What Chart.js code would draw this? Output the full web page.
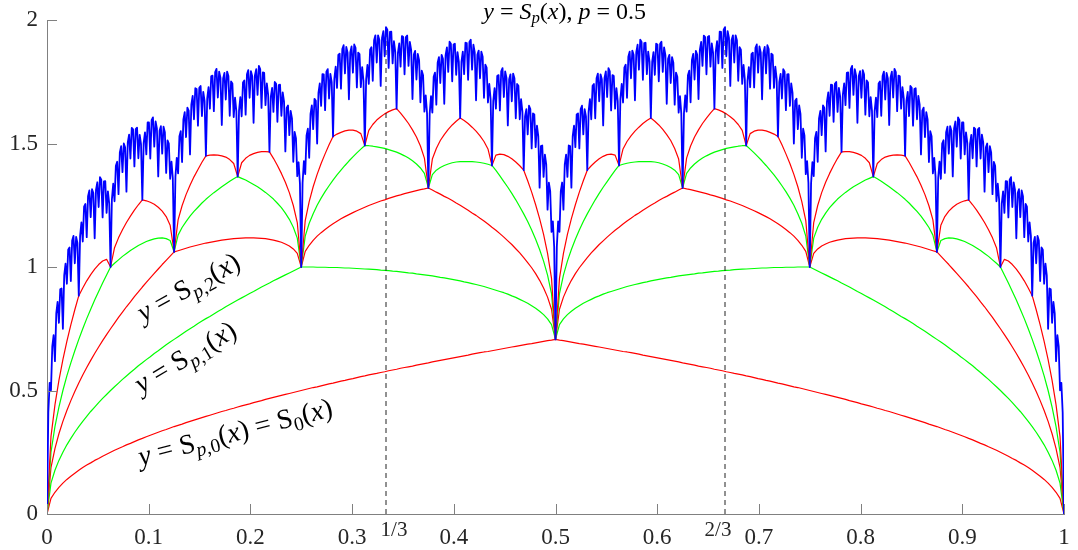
<!DOCTYPE html>
<html>
<head>
<meta charset="utf-8">
<script src="https://cdn.jsdelivr.net/npm/chart.js@4.4.1/dist/chart.umd.min.js"></script>
<style>
  html, body { margin: 0; padding: 0; background: #fff; }
</style>
</head>
<body>
<canvas id="spChart" width="1078" height="550"></canvas>
<script>
/* ---------------------------------- Data ---------------------------------- */
// partial sums S_{p,n}(x), n = 0..4, read every 1/256 from x = 0 to x = 1
const sp0Vals = [
  0, 0.063, 0.088, 0.108, 0.125, 0.140, 0.153, 0.165, 0.177, 0.188, 0.198, 0.207, 0.217, 0.225, 0.234, 0.242,
  0.250, 0.258, 0.265, 0.272, 0.280, 0.286, 0.293, 0.300, 0.306, 0.313, 0.319, 0.325, 0.331, 0.337, 0.342, 0.348,
  0.354, 0.359, 0.364, 0.370, 0.375, 0.380, 0.385, 0.390, 0.395, 0.400, 0.405, 0.410, 0.415, 0.419, 0.424, 0.428,
  0.433, 0.438, 0.442, 0.446, 0.451, 0.455, 0.459, 0.464, 0.468, 0.472, 0.476, 0.480, 0.484, 0.488, 0.492, 0.496,
  0.500, 0.504, 0.508, 0.512, 0.515, 0.519, 0.523, 0.527, 0.530, 0.534, 0.538, 0.541, 0.545, 0.548, 0.552, 0.556,
  0.559, 0.563, 0.566, 0.569, 0.573, 0.576, 0.580, 0.583, 0.586, 0.590, 0.593, 0.596, 0.599, 0.603, 0.606, 0.609,
  0.612, 0.616, 0.619, 0.622, 0.625, 0.628, 0.631, 0.634, 0.637, 0.640, 0.643, 0.647, 0.650, 0.653, 0.656, 0.658,
  0.661, 0.664, 0.667, 0.670, 0.673, 0.676, 0.679, 0.682, 0.685, 0.688, 0.690, 0.693, 0.696, 0.699, 0.702, 0.704,
  0.707,
  0.704, 0.702, 0.699, 0.696, 0.693, 0.690, 0.688, 0.685, 0.682, 0.679, 0.676, 0.673, 0.670, 0.667, 0.664, 0.661,
  0.658, 0.656, 0.653, 0.650, 0.647, 0.643, 0.640, 0.637, 0.634, 0.631, 0.628, 0.625, 0.622, 0.619, 0.616, 0.612,
  0.609, 0.606, 0.603, 0.599, 0.596, 0.593, 0.590, 0.586, 0.583, 0.580, 0.576, 0.573, 0.569, 0.566, 0.563, 0.559,
  0.556, 0.552, 0.548, 0.545, 0.541, 0.538, 0.534, 0.530, 0.527, 0.523, 0.519, 0.515, 0.512, 0.508, 0.504, 0.500,
  0.496, 0.492, 0.488, 0.484, 0.480, 0.476, 0.472, 0.468, 0.464, 0.459, 0.455, 0.451, 0.446, 0.442, 0.438, 0.433,
  0.428, 0.424, 0.419, 0.415, 0.410, 0.405, 0.400, 0.395, 0.390, 0.385, 0.380, 0.375, 0.370, 0.364, 0.359, 0.354,
  0.348, 0.342, 0.337, 0.331, 0.325, 0.319, 0.313, 0.306, 0.300, 0.293, 0.286, 0.280, 0.272, 0.265, 0.258, 0.250,
  0.242, 0.234, 0.225, 0.217, 0.207, 0.198, 0.188, 0.177, 0.165, 0.153, 0.140, 0.125, 0.108, 0.088, 0.063, 0,
];

const sp1Vals = [
  0, 0.125, 0.177, 0.217, 0.250, 0.280, 0.306, 0.331, 0.354, 0.375, 0.395, 0.415, 0.433, 0.451, 0.468, 0.484,
  0.500, 0.515, 0.530, 0.545, 0.559, 0.573, 0.586, 0.600, 0.612, 0.625, 0.637, 0.650, 0.661, 0.673, 0.685, 0.696,
  0.707, 0.718, 0.729, 0.740, 0.750, 0.760, 0.771, 0.781, 0.791, 0.800, 0.810, 0.820, 0.829, 0.839, 0.848, 0.857,
  0.866, 0.875, 0.884, 0.893, 0.901, 0.910, 0.919, 0.927, 0.935, 0.944, 0.952, 0.960, 0.968, 0.976, 0.984, 0.992,
  1.000, 1.000, 1.000, 1.000, 0.999, 0.999, 0.999, 0.998, 0.998, 0.998, 0.997, 0.996, 0.996, 0.995, 0.994, 0.993,
  0.992, 0.991, 0.990, 0.989, 0.987, 0.986, 0.985, 0.983, 0.982, 0.980, 0.978, 0.976, 0.975, 0.972, 0.970, 0.968,
  0.966, 0.964, 0.961, 0.958, 0.956, 0.953, 0.950, 0.947, 0.944, 0.940, 0.937, 0.933, 0.929, 0.925, 0.921, 0.916,
  0.911, 0.906, 0.901, 0.896, 0.890, 0.883, 0.877, 0.869, 0.861, 0.853, 0.843, 0.833, 0.821, 0.807, 0.790, 0.767,
  0.707,
  0.767, 0.790, 0.807, 0.821, 0.833, 0.843, 0.853, 0.861, 0.869, 0.877, 0.883, 0.890, 0.896, 0.901, 0.906, 0.911,
  0.916, 0.921, 0.925, 0.929, 0.933, 0.937, 0.940, 0.944, 0.947, 0.950, 0.953, 0.956, 0.958, 0.961, 0.964, 0.966,
  0.968, 0.970, 0.972, 0.975, 0.976, 0.978, 0.980, 0.982, 0.983, 0.985, 0.986, 0.987, 0.989, 0.990, 0.991, 0.992,
  0.993, 0.994, 0.995, 0.996, 0.996, 0.997, 0.998, 0.998, 0.998, 0.999, 0.999, 0.999, 1.000, 1.000, 1.000, 1.000,
  0.992, 0.984, 0.976, 0.968, 0.960, 0.952, 0.944, 0.935, 0.927, 0.919, 0.910, 0.901, 0.893, 0.884, 0.875, 0.866,
  0.857, 0.848, 0.839, 0.829, 0.820, 0.810, 0.800, 0.791, 0.781, 0.771, 0.760, 0.750, 0.740, 0.729, 0.718, 0.707,
  0.696, 0.685, 0.673, 0.661, 0.650, 0.637, 0.625, 0.612, 0.600, 0.586, 0.573, 0.559, 0.545, 0.530, 0.515, 0.500,
  0.484, 0.468, 0.451, 0.433, 0.415, 0.395, 0.375, 0.354, 0.331, 0.306, 0.280, 0.250, 0.217, 0.177, 0.125, 0,
];

const sp2Vals = [
  0, 0.188, 0.265, 0.325, 0.375, 0.419, 0.459, 0.496, 0.530, 0.563, 0.593, 0.622, 0.650, 0.676, 0.702, 0.726,
  0.750, 0.773, 0.796, 0.817, 0.839, 0.859, 0.880, 0.899, 0.919, 0.938, 0.956, 0.974, 0.992, 1.010, 1.027, 1.044,
  1.061, 1.066, 1.071, 1.076, 1.081, 1.085, 1.089, 1.093, 1.097, 1.100, 1.103, 1.106, 1.109, 1.111, 1.113, 1.115,
  1.116, 1.117, 1.118, 1.118, 1.118, 1.117, 1.116, 1.115, 1.112, 1.109, 1.105, 1.100, 1.093, 1.085, 1.073, 1.055,
  1.000, 1.063, 1.088, 1.108, 1.125, 1.139, 1.152, 1.164, 1.175, 1.185, 1.195, 1.204, 1.212, 1.220, 1.228, 1.235,
  1.242, 1.249, 1.255, 1.261, 1.267, 1.272, 1.278, 1.283, 1.288, 1.292, 1.297, 1.301, 1.305, 1.309, 1.313, 1.316,
  1.320, 1.312, 1.303, 1.295, 1.286, 1.278, 1.269, 1.259, 1.250, 1.240, 1.230, 1.219, 1.209, 1.197, 1.186, 1.174,
  1.161, 1.149, 1.135, 1.121, 1.106, 1.091, 1.074, 1.057, 1.038, 1.018, 0.997, 0.973, 0.946, 0.915, 0.878, 0.829,
  0.707,
  0.829, 0.878, 0.915, 0.946, 0.973, 0.997, 1.018, 1.038, 1.057, 1.074, 1.091, 1.106, 1.121, 1.135, 1.149, 1.161,
  1.174, 1.186, 1.197, 1.209, 1.219, 1.230, 1.240, 1.250, 1.259, 1.269, 1.278, 1.286, 1.295, 1.303, 1.312, 1.320,
  1.316, 1.313, 1.309, 1.305, 1.301, 1.297, 1.292, 1.288, 1.283, 1.278, 1.272, 1.267, 1.261, 1.255, 1.249, 1.242,
  1.235, 1.228, 1.220, 1.212, 1.204, 1.195, 1.185, 1.175, 1.164, 1.152, 1.139, 1.125, 1.108, 1.088, 1.063, 1.000,
  1.055, 1.073, 1.085, 1.093, 1.100, 1.105, 1.109, 1.112, 1.115, 1.116, 1.117, 1.118, 1.118, 1.118, 1.117, 1.116,
  1.115, 1.113, 1.111, 1.109, 1.106, 1.103, 1.100, 1.097, 1.093, 1.089, 1.085, 1.081, 1.076, 1.071, 1.066, 1.061,
  1.044, 1.027, 1.010, 0.992, 0.974, 0.956, 0.938, 0.919, 0.899, 0.880, 0.859, 0.839, 0.817, 0.796, 0.773, 0.750,
  0.726, 0.702, 0.676, 0.650, 0.622, 0.593, 0.563, 0.530, 0.496, 0.459, 0.419, 0.375, 0.325, 0.265, 0.188, 0,
];

const sp3Vals = [
  0, 0.250, 0.354, 0.433, 0.500, 0.559, 0.612, 0.661, 0.707, 0.750, 0.791, 0.829, 0.866, 0.901, 0.935, 0.968,
  1.000, 1.015, 1.029, 1.043, 1.055, 1.067, 1.077, 1.087, 1.095, 1.103, 1.109, 1.114, 1.117, 1.118, 1.115, 1.107,
  1.061, 1.129, 1.160, 1.184, 1.206, 1.225, 1.242, 1.259, 1.274, 1.288, 1.301, 1.313, 1.325, 1.336, 1.347, 1.357,
  1.366, 1.359, 1.352, 1.343, 1.334, 1.325, 1.314, 1.302, 1.289, 1.275, 1.258, 1.240, 1.218, 1.193, 1.161, 1.117,
  1.000, 1.125, 1.177, 1.216, 1.250, 1.279, 1.305, 1.329, 1.352, 1.373, 1.392, 1.411, 1.429, 1.446, 1.462, 1.477,
  1.492, 1.491, 1.489, 1.486, 1.483, 1.480, 1.475, 1.470, 1.465, 1.458, 1.450, 1.441, 1.430, 1.417, 1.401, 1.379,
  1.320, 1.374, 1.392, 1.403, 1.411, 1.417, 1.422, 1.425, 1.427, 1.427, 1.427, 1.427, 1.425, 1.423, 1.420, 1.416,
  1.411, 1.391, 1.369, 1.346, 1.323, 1.298, 1.272, 1.244, 1.215, 1.184, 1.150, 1.112, 1.071, 1.024, 0.967, 0.892,
  0.707,
  0.892, 0.967, 1.024, 1.071, 1.112, 1.150, 1.184, 1.215, 1.244, 1.272, 1.298, 1.323, 1.346, 1.369, 1.391, 1.411,
  1.416, 1.420, 1.423, 1.425, 1.427, 1.427, 1.427, 1.427, 1.425, 1.422, 1.417, 1.411, 1.403, 1.392, 1.374, 1.320,
  1.379, 1.401, 1.417, 1.430, 1.441, 1.450, 1.458, 1.465, 1.470, 1.475, 1.480, 1.483, 1.486, 1.489, 1.491, 1.492,
  1.477, 1.462, 1.446, 1.429, 1.411, 1.392, 1.373, 1.352, 1.329, 1.305, 1.279, 1.250, 1.216, 1.177, 1.125, 1.000,
  1.117, 1.161, 1.193, 1.218, 1.240, 1.258, 1.275, 1.289, 1.302, 1.314, 1.325, 1.334, 1.343, 1.352, 1.359, 1.366,
  1.357, 1.347, 1.336, 1.325, 1.313, 1.301, 1.288, 1.274, 1.259, 1.242, 1.225, 1.206, 1.184, 1.160, 1.129, 1.061,
  1.107, 1.115, 1.118, 1.117, 1.114, 1.109, 1.103, 1.095, 1.087, 1.077, 1.067, 1.055, 1.043, 1.029, 1.015, 1.000,
  0.968, 0.935, 0.901, 0.866, 0.829, 0.791, 0.750, 0.707, 0.661, 0.612, 0.559, 0.500, 0.433, 0.354, 0.250, 0,
];

const sp4Vals = [
  0, 0.313, 0.442, 0.541, 0.625, 0.699, 0.766, 0.827, 0.884, 0.915, 0.944, 0.969, 0.991, 1.010, 1.024, 1.031,
  1.000, 1.078, 1.118, 1.151, 1.180, 1.206, 1.230, 1.252, 1.272, 1.268, 1.262, 1.254, 1.242, 1.226, 1.204, 1.169,
  1.061, 1.191, 1.248, 1.293, 1.331, 1.365, 1.395, 1.424, 1.450, 1.453, 1.454, 1.453, 1.450, 1.445, 1.435, 1.419,
  1.366, 1.422, 1.440, 1.452, 1.459, 1.464, 1.467, 1.467, 1.466, 1.440, 1.411, 1.379, 1.343, 1.301, 1.249, 1.180,
  1.000, 1.188, 1.265, 1.325, 1.375, 1.419, 1.458, 1.495, 1.528, 1.538, 1.545, 1.551, 1.554, 1.554, 1.550, 1.540,
  1.492, 1.553, 1.577, 1.595, 1.608, 1.620, 1.629, 1.636, 1.641, 1.623, 1.603, 1.581, 1.555, 1.526, 1.490, 1.441,
  1.320, 1.437, 1.480, 1.512, 1.536, 1.557, 1.575, 1.590, 1.603, 1.593, 1.581, 1.566, 1.550, 1.531, 1.508, 1.478,
  1.411, 1.453, 1.457, 1.455, 1.448, 1.438, 1.425, 1.410, 1.392, 1.349, 1.303, 1.252, 1.196, 1.132, 1.055, 0.954,
  0.707,
  0.954, 1.055, 1.132, 1.196, 1.252, 1.303, 1.349, 1.392, 1.410, 1.425, 1.438, 1.448, 1.455, 1.457, 1.453, 1.411,
  1.478, 1.508, 1.531, 1.550, 1.566, 1.581, 1.593, 1.603, 1.590, 1.575, 1.557, 1.536, 1.512, 1.480, 1.437, 1.320,
  1.441, 1.490, 1.526, 1.555, 1.581, 1.603, 1.623, 1.641, 1.636, 1.629, 1.620, 1.608, 1.595, 1.577, 1.553, 1.492,
  1.540, 1.550, 1.554, 1.554, 1.551, 1.545, 1.538, 1.528, 1.495, 1.458, 1.419, 1.375, 1.325, 1.265, 1.188, 1.000,
  1.180, 1.249, 1.301, 1.343, 1.379, 1.411, 1.440, 1.466, 1.467, 1.467, 1.464, 1.459, 1.452, 1.440, 1.422, 1.366,
  1.419, 1.435, 1.445, 1.450, 1.453, 1.454, 1.453, 1.450, 1.424, 1.395, 1.365, 1.331, 1.293, 1.248, 1.191, 1.061,
  1.169, 1.204, 1.226, 1.242, 1.254, 1.262, 1.268, 1.272, 1.252, 1.230, 1.206, 1.180, 1.151, 1.118, 1.078, 1.000,
  1.031, 1.024, 1.010, 0.991, 0.969, 0.944, 0.915, 0.884, 0.827, 0.766, 0.699, 0.625, 0.541, 0.442, 0.313, 0,
];

// the full S_p(x), read every 1/768 from x = 0 to x = 1
const spVals = [
  0, 0.412, 0.531, 0.501, 0.679, 0.724, 0.619, 0.812, 0.859, 0.774, 0.910, 0.913, 0.750, 0.966, 1.014, 0.932, 1.070, 1.079, 0.943, 1.107, 1.126, 1.015, 1.122, 1.097,
  0.884, 1.126, 1.181, 1.103, 1.244, 1.255, 1.121, 1.287, 1.310, 1.202, 1.315, 1.299, 1.116, 1.312, 1.343, 1.243, 1.364, 1.354, 1.201, 1.347, 1.348, 1.219, 1.306, 1.257,
  1.000, 1.273, 1.337, 1.266, 1.410, 1.426, 1.295, 1.464, 1.489, 1.384, 1.500, 1.485, 1.305, 1.504, 1.536, 1.439, 1.563, 1.557, 1.407, 1.558, 1.564, 1.440, 1.535, 1.497,
  1.272, 1.503, 1.545, 1.456, 1.585, 1.585, 1.439, 1.595, 1.606, 1.487, 1.589, 1.561, 1.367, 1.552, 1.570, 1.459, 1.568, 1.546, 1.381, 1.513, 1.500, 1.357, 1.427, 1.360,
  1.061, 1.367, 1.442, 1.379, 1.529, 1.550, 1.425, 1.598, 1.627, 1.526, 1.645, 1.633, 1.456, 1.657, 1.693, 1.598, 1.724, 1.721, 1.572, 1.726, 1.733, 1.611, 1.709, 1.673,
  1.450, 1.683, 1.728, 1.641, 1.772, 1.775, 1.631, 1.789, 1.802, 1.686, 1.791, 1.766, 1.575, 1.763, 1.786, 1.678, 1.791, 1.773, 1.612, 1.751, 1.743, 1.607, 1.686, 1.631,
  1.366, 1.632, 1.688, 1.610, 1.747, 1.755, 1.617, 1.780, 1.797, 1.685, 1.793, 1.772, 1.584, 1.776, 1.801, 1.697, 1.814, 1.801, 1.644, 1.788, 1.786, 1.655, 1.743, 1.698,
  1.466, 1.689, 1.725, 1.628, 1.749, 1.742, 1.588, 1.736, 1.738, 1.612, 1.707, 1.670, 1.468, 1.644, 1.654, 1.534, 1.632, 1.602, 1.426, 1.547, 1.522, 1.368, 1.424, 1.338,
  1.000, 1.341, 1.429, 1.376, 1.533, 1.560, 1.442, 1.620, 1.654, 1.558, 1.681, 1.673, 1.500, 1.705, 1.743, 1.652, 1.781, 1.780, 1.635, 1.791, 1.801, 1.682, 1.782, 1.748,
  1.528, 1.763, 1.811, 1.725, 1.859, 1.864, 1.722, 1.882, 1.898, 1.784, 1.891, 1.868, 1.679, 1.869, 1.893, 1.787, 1.901, 1.887, 1.727, 1.868, 1.862, 1.728, 1.809, 1.754,
  1.492, 1.759, 1.818, 1.741, 1.880, 1.890, 1.754, 1.918, 1.938, 1.828, 1.938, 1.919, 1.733, 1.927, 1.955, 1.853, 1.971, 1.961, 1.806, 1.952, 1.953, 1.824, 1.914, 1.871,
  1.641, 1.867, 1.905, 1.811, 1.935, 1.931, 1.780, 1.931, 1.937, 1.814, 1.911, 1.879, 1.680, 1.860, 1.875, 1.759, 1.863, 1.837, 1.667, 1.795, 1.776, 1.629, 1.695, 1.622,
  1.320, 1.622, 1.692, 1.625, 1.770, 1.787, 1.657, 1.827, 1.850, 1.745, 1.859, 1.843, 1.661, 1.858, 1.889, 1.790, 1.912, 1.904, 1.752, 1.901, 1.904, 1.778, 1.870, 1.830,
  1.603, 1.832, 1.872, 1.781, 1.908, 1.906, 1.758, 1.911, 1.920, 1.799, 1.900, 1.870, 1.675, 1.859, 1.876, 1.764, 1.872, 1.851, 1.685, 1.819, 1.807, 1.666, 1.741, 1.680,
  1.411, 1.672, 1.724, 1.641, 1.773, 1.777, 1.634, 1.792, 1.805, 1.688, 1.792, 1.765, 1.573, 1.760, 1.780, 1.671, 1.783, 1.764, 1.602, 1.741, 1.734, 1.598, 1.680, 1.629,
  1.392, 1.610, 1.639, 1.537, 1.653, 1.639, 1.480, 1.622, 1.618, 1.485, 1.572, 1.530, 1.321, 1.490, 1.492, 1.365, 1.455, 1.416, 1.232, 1.342, 1.307, 1.142, 1.185, 1.082,
  0.707,
  1.082, 1.185, 1.142, 1.307, 1.342, 1.232, 1.416, 1.455, 1.365, 1.492, 1.490, 1.321, 1.530, 1.572, 1.485, 1.618, 1.622, 1.480, 1.639, 1.653, 1.537, 1.639, 1.610, 1.392,
  1.629, 1.680, 1.598, 1.734, 1.741, 1.602, 1.764, 1.783, 1.671, 1.780, 1.760, 1.573, 1.765, 1.792, 1.688, 1.805, 1.792, 1.634, 1.777, 1.773, 1.641, 1.724, 1.672, 1.411,
  1.680, 1.741, 1.666, 1.807, 1.819, 1.685, 1.851, 1.872, 1.764, 1.876, 1.859, 1.675, 1.870, 1.900, 1.799, 1.920, 1.911, 1.758, 1.906, 1.908, 1.781, 1.872, 1.832, 1.603,
  1.830, 1.870, 1.778, 1.904, 1.901, 1.752, 1.904, 1.912, 1.790, 1.889, 1.858, 1.661, 1.843, 1.859, 1.745, 1.850, 1.827, 1.657, 1.787, 1.770, 1.625, 1.692, 1.622, 1.320,
  1.622, 1.695, 1.629, 1.776, 1.795, 1.667, 1.837, 1.863, 1.759, 1.875, 1.860, 1.680, 1.879, 1.911, 1.814, 1.937, 1.931, 1.780, 1.931, 1.935, 1.811, 1.905, 1.867, 1.641,
  1.871, 1.914, 1.824, 1.953, 1.952, 1.806, 1.961, 1.971, 1.853, 1.955, 1.927, 1.733, 1.919, 1.938, 1.828, 1.938, 1.918, 1.754, 1.890, 1.880, 1.741, 1.818, 1.759, 1.492,
  1.754, 1.809, 1.728, 1.862, 1.868, 1.727, 1.887, 1.901, 1.787, 1.893, 1.869, 1.679, 1.868, 1.891, 1.784, 1.898, 1.882, 1.722, 1.864, 1.859, 1.725, 1.811, 1.763, 1.528,
  1.748, 1.782, 1.682, 1.801, 1.791, 1.635, 1.780, 1.781, 1.652, 1.743, 1.705, 1.500, 1.673, 1.681, 1.558, 1.654, 1.620, 1.442, 1.560, 1.533, 1.376, 1.429, 1.341, 1.000,
  1.338, 1.424, 1.368, 1.522, 1.547, 1.426, 1.602, 1.632, 1.534, 1.654, 1.644, 1.468, 1.670, 1.707, 1.612, 1.738, 1.736, 1.588, 1.742, 1.749, 1.628, 1.725, 1.689, 1.466,
  1.698, 1.743, 1.655, 1.786, 1.788, 1.644, 1.801, 1.814, 1.697, 1.801, 1.776, 1.584, 1.772, 1.793, 1.685, 1.797, 1.780, 1.617, 1.755, 1.747, 1.610, 1.688, 1.632, 1.366,
  1.631, 1.686, 1.607, 1.743, 1.751, 1.612, 1.773, 1.791, 1.678, 1.786, 1.763, 1.575, 1.766, 1.791, 1.686, 1.802, 1.789, 1.631, 1.775, 1.772, 1.641, 1.728, 1.683, 1.450,
  1.673, 1.709, 1.611, 1.733, 1.726, 1.572, 1.721, 1.724, 1.598, 1.693, 1.657, 1.456, 1.633, 1.645, 1.526, 1.627, 1.598, 1.425, 1.550, 1.529, 1.379, 1.442, 1.367, 1.061,
  1.360, 1.427, 1.357, 1.500, 1.513, 1.381, 1.546, 1.568, 1.459, 1.570, 1.552, 1.367, 1.561, 1.589, 1.487, 1.606, 1.595, 1.439, 1.585, 1.585, 1.456, 1.545, 1.503, 1.272,
  1.497, 1.535, 1.440, 1.564, 1.558, 1.407, 1.557, 1.563, 1.439, 1.536, 1.504, 1.305, 1.485, 1.500, 1.384, 1.489, 1.464, 1.295, 1.426, 1.410, 1.266, 1.337, 1.273, 1.000,
  1.257, 1.306, 1.219, 1.348, 1.347, 1.201, 1.354, 1.364, 1.243, 1.343, 1.312, 1.116, 1.299, 1.315, 1.202, 1.310, 1.287, 1.121, 1.255, 1.244, 1.103, 1.181, 1.126, 0.884,
  1.097, 1.122, 1.015, 1.126, 1.107, 0.943, 1.079, 1.070, 0.932, 1.014, 0.966, 0.750, 0.913, 0.910, 0.774, 0.859, 0.812, 0.619, 0.724, 0.679, 0.501, 0.531, 0.412, 0,
];

// dashed markers at x = 1/3 and x = 2/3
const thirdsX = [1 / 3, 2 / 3];
const thirdsTop = [1.971, 1.971];
const thirdsLabels = ["1/3", "2/3"];

/* --------------------------------- Helpers -------------------------------- */
const SERIF = "'Liberation Serif', 'DejaVu Serif', 'Noto Serif', 'Times New Roman', Times, serif";
const AXIS_GRAY = "#808080";

const toPoints = function (vals) {
  return vals.map((y, i) => ({ x: i / (vals.length - 1), y }));
};

const tickText = (v) => String(Math.round(v * 10) / 10);

const mathFont = function (kind, size) {
  const italic = kind === "i" || kind === "sub";
  const px = kind.startsWith("sub") ? size * 0.7 : size;
  return `${italic ? "italic " : ""}${px}px ${SERIF}`;
};

// draws a run of [text, kind] pieces centred on (cx, cy), rotated by angle (deg)
const drawMath = function (ctx, parts, cx, cy, size, angle) {
  const widths = parts.map(([text, kind]) => {
    ctx.font = mathFont(kind, size);
    return ctx.measureText(text).width;
  });
  const total = widths.reduce((a, b) => a + b, 0);

  ctx.save();
  ctx.translate(cx, cy);
  ctx.rotate((angle * Math.PI) / 180);
  ctx.fillStyle = "#000";
  ctx.textBaseline = "alphabetic";
  let x = -total / 2;
  parts.forEach(([text, kind], i) => {
    ctx.font = mathFont(kind, size);
    const y = size * 0.32 + (kind.startsWith("sub") ? size * 0.2 : 0);
    ctx.fillText(text, x, y);
    x += widths[i];
  });
  ctx.restore();
};

const curveLabels = [
  {
    at: [0.139, 0.919], angle: -29,
    parts: [["y", "i"], [" = ", "r"], ["S", "r"], ["p", "sub"], [",2", "subr"], ["(", "r"], ["x", "i"], [")", "r"]],
  },
  {
    at: [0.136, 0.636], angle: -31,
    parts: [["y", "i"], [" = ", "r"], ["S", "r"], ["p", "sub"], [",1", "subr"], ["(", "r"], ["x", "i"], [")", "r"]],
  },
  {
    at: [0.185, 0.332], angle: -14.5,
    parts: [
      ["y", "i"], [" = ", "r"], ["S", "r"], ["p", "sub"], [",0", "subr"], ["(", "r"], ["x", "i"], [")", "r"],
      [" = ", "r"], ["S", "r"], ["0", "subr"], ["(", "r"], ["x", "i"], [")", "r"],
    ],
  },
];

/* ------------------------------ Axis decoration ---------------------------- */
const axisDecor = {
  id: "axisDecor",
  afterDraw(chart) {
    const { ctx, chartArea, scales } = chart;
    const xs = scales.x;
    const ys = scales.y;

    // MATLAB-style ticks pointing into the plot
    ctx.save();
    ctx.strokeStyle = AXIS_GRAY;
    ctx.lineWidth = 1;
    ctx.beginPath();
    xs.ticks.forEach((t) => {
      const px = Math.round(xs.getPixelForValue(t.value)) + 0.5;
      ctx.moveTo(px, chartArea.bottom);
      ctx.lineTo(px, chartArea.bottom - 10);
    });
    ys.ticks.forEach((t) => {
      const py = Math.round(ys.getPixelForValue(t.value)) + 0.5;
      ctx.moveTo(chartArea.left, py);
      ctx.lineTo(chartArea.left + 10, py);
    });
    ctx.stroke();

    // 1/3 and 2/3 labels under the dashed lines
    ctx.fillStyle = "#262626";
    ctx.font = `21px ${SERIF}`;
    ctx.textAlign = "center";
    ctx.textBaseline = "middle";
    thirdsX.forEach((v, i) => {
      const shift = i === 0 ? 8 : -7;
      ctx.fillText(thirdsLabels[i], xs.getPixelForValue(v) + shift, chartArea.bottom + 16);
    });
    ctx.restore();

    // title
    drawMath(
      ctx,
      [["y", "i"], [" = ", "r"], ["S", "i"], ["p", "sub"], ["(", "r"], ["x", "i"], ["), ", "r"], ["p", "i"], [" = 0.5", "r"]],
      xs.getPixelForValue(0.509),
      chartArea.top - 9,
      24,
      0
    );

    curveLabels.forEach((lab) => {
      drawMath(ctx, lab.parts, xs.getPixelForValue(lab.at[0]), ys.getPixelForValue(lab.at[1]), 28, lab.angle);
    });
  },
};

/* ---------------------------------- Chart --------------------------------- */
const line = function (vals, color, width) {
  return {
    data: toPoints(vals),
    borderColor: color,
    borderWidth: width,
    pointRadius: 0,
    fill: false,
  };
};

const thirdsSets = thirdsX.map((v, i) => ({
  data: [{ x: v, y: 0 }, { x: v, y: thirdsTop[i] }],
  borderColor: "#222",
  borderWidth: 1,
  borderDash: [5, 4],
  pointRadius: 0,
  fill: false,
}));

// keep the plot box fixed: no extra room for overhanging tick labels
const noPadding = function (scale) {
  scale.paddingLeft = 0;
  scale.paddingRight = 0;
  scale.paddingTop = 0;
  scale.paddingBottom = 0;
};

const ctx = document.getElementById("spChart").getContext("2d");

const spChart = new Chart(ctx, {
  type: "line",
  data: {
    // first dataset is painted last, so the blue curve sits on top
    datasets: [
      line(spVals, "#0000ff", 1.8),
      ...thirdsSets,
      line(sp4Vals, "#ff0000", 1.2),
      line(sp3Vals, "#00ff00", 1.2),
      line(sp2Vals, "#ff0000", 1.2),
      line(sp1Vals, "#00ff00", 1.2),
      line(sp0Vals, "#ff0000", 1.2),
    ],
  },
  options: {
    responsive: false,
    animation: false,
    events: [],
    layout: { padding: { top: 20, right: 14, left: 0, bottom: 0 } },
    elements: { line: { tension: 0, borderJoinStyle: "round" } },
    scales: {
      x: {
        type: "linear",
        min: 0,
        max: 1,
        grid: { display: false, drawTicks: false },
        border: { display: true, color: AXIS_GRAY, width: 1 },
        ticks: {
          stepSize: 0.1,
          autoSkip: false,
          maxRotation: 0,
          padding: 10,
          color: "#262626",
          font: { family: SERIF, size: 23 },
          callback: tickText,
        },
        afterFit: (scale) => {
          scale.height = 36;
          noPadding(scale);
        },
      },
      y: {
        type: "linear",
        min: 0,
        max: 2,
        grid: { display: false, drawTicks: false },
        border: { display: true, color: AXIS_GRAY, width: 1 },
        ticks: {
          stepSize: 0.5,
          padding: 9,
          color: "#262626",
          font: { family: SERIF, size: 23 },
          callback: tickText,
        },
        afterFit: (scale) => {
          scale.width = 47;
          noPadding(scale);
        },
      },
    },
    plugins: {
      legend: { display: false },
      tooltip: { enabled: false },
    },
  },
  plugins: [axisDecor],
});
</script>
</body>
</html>
